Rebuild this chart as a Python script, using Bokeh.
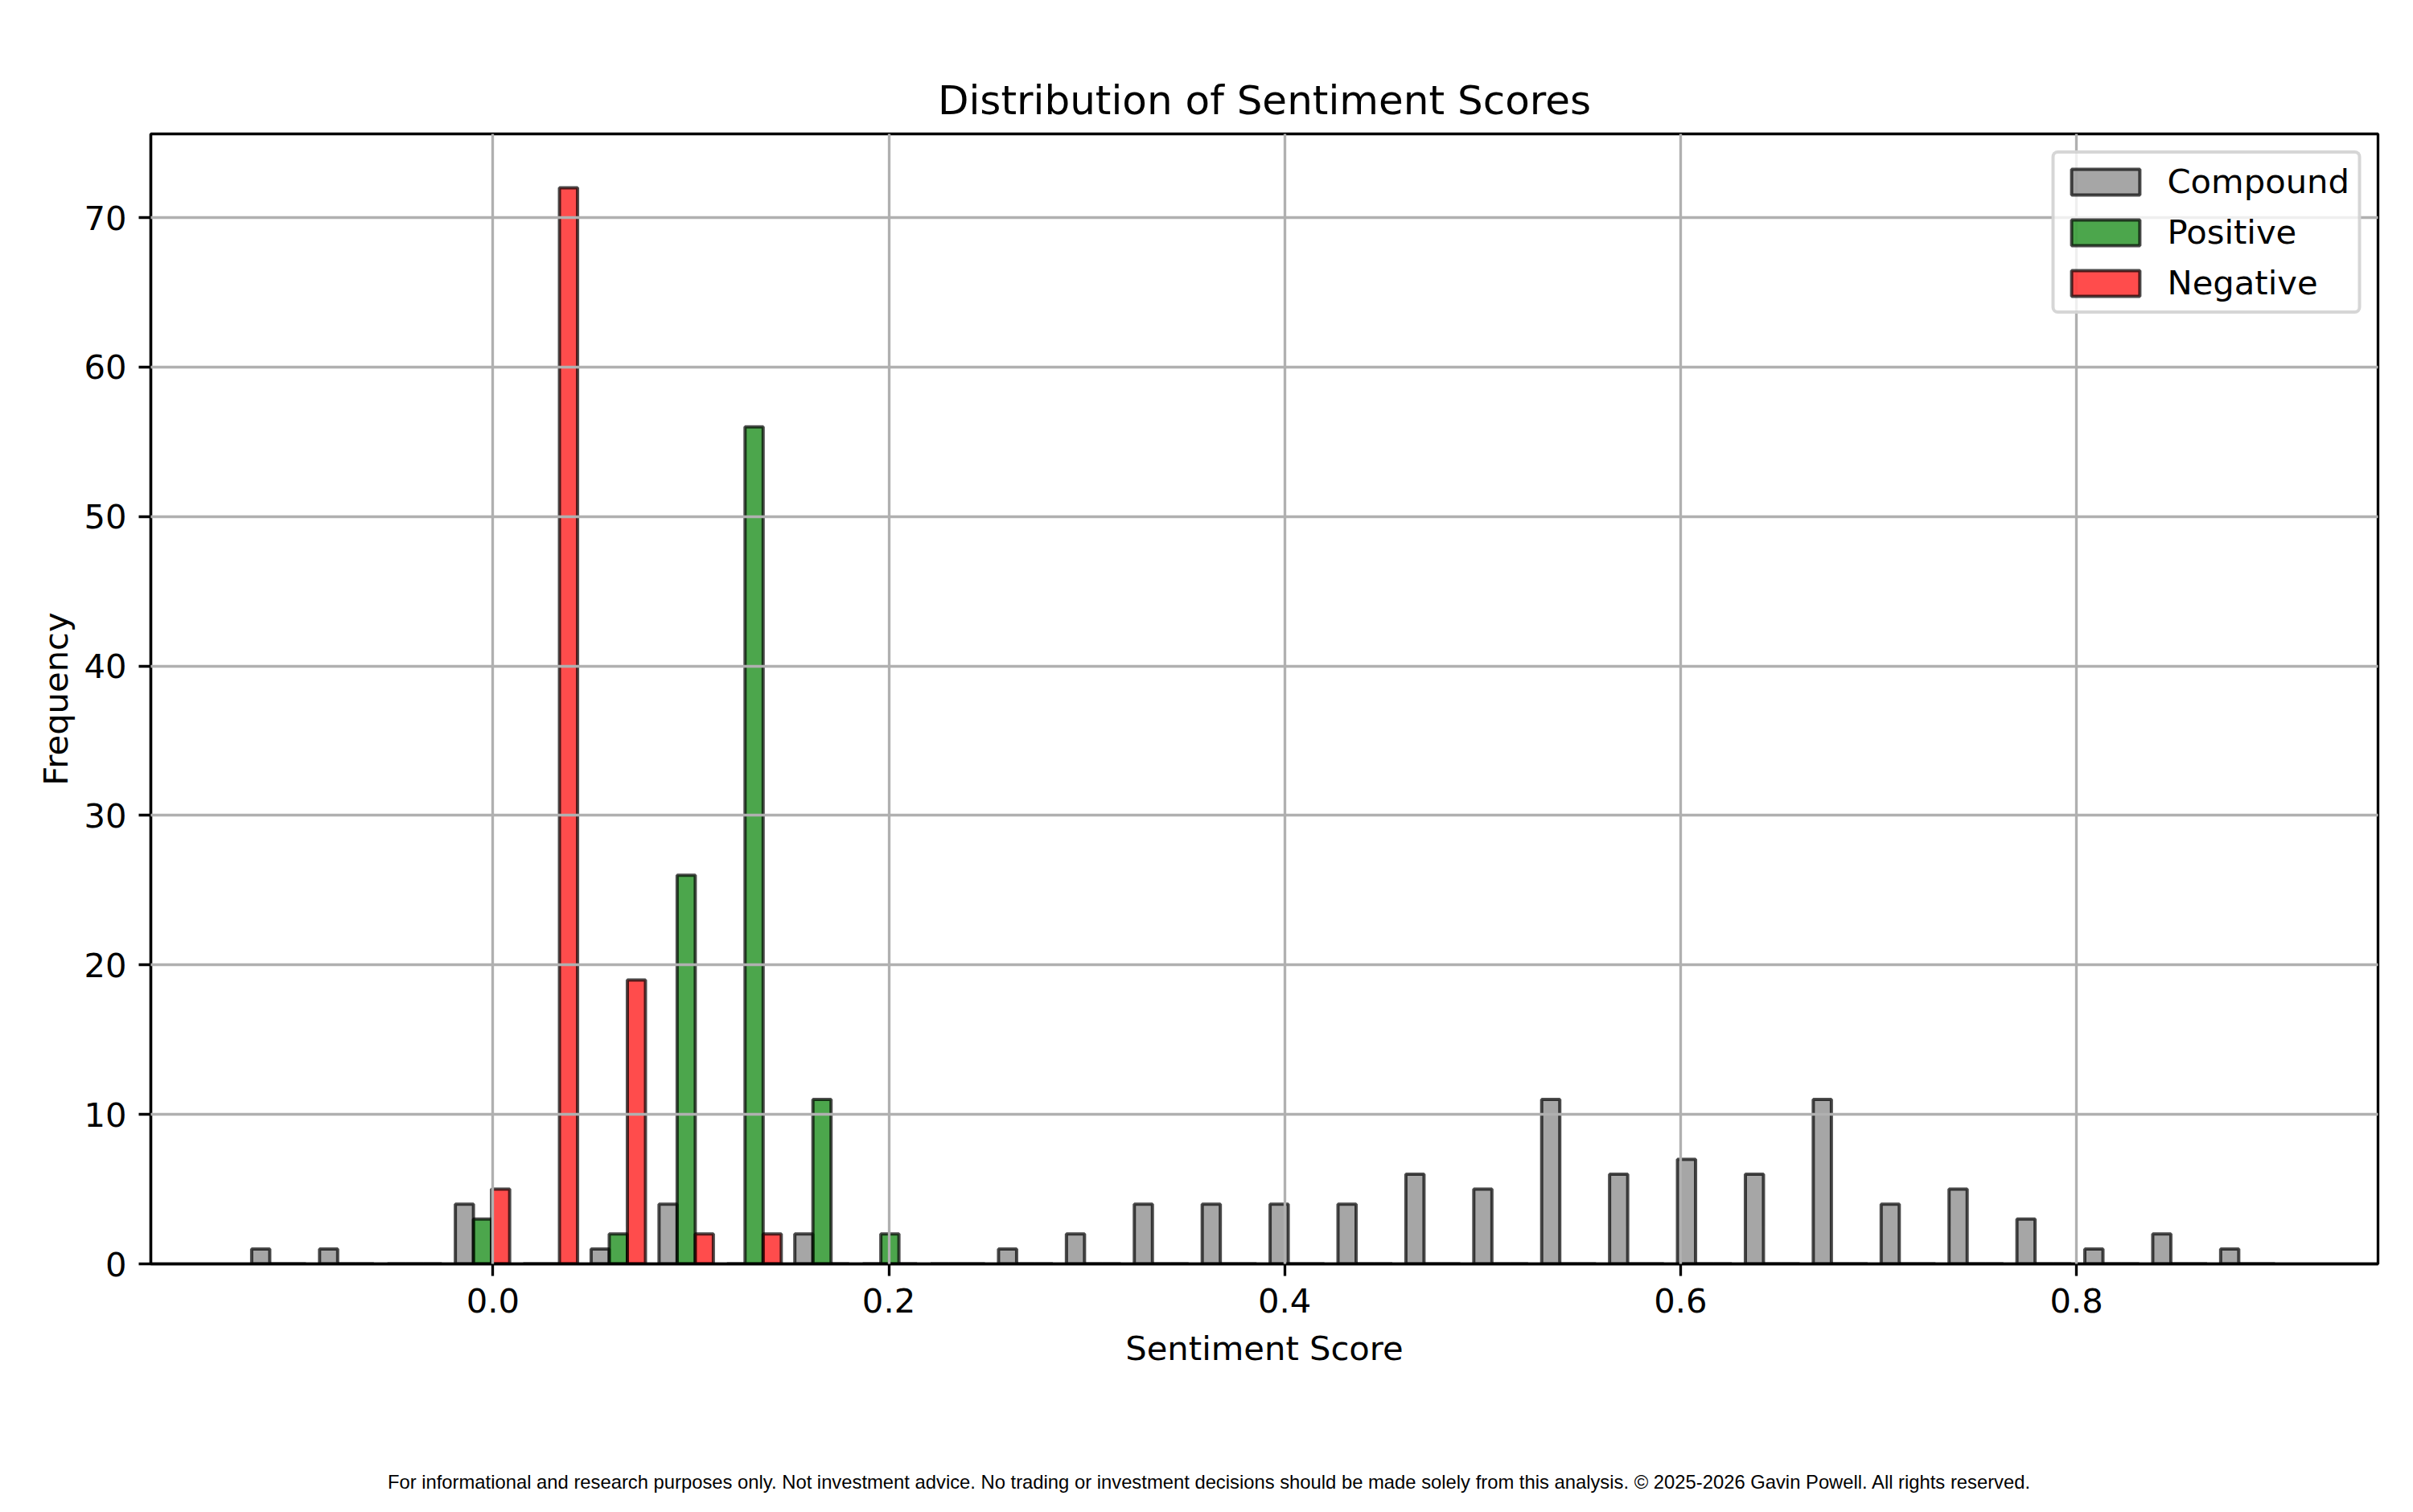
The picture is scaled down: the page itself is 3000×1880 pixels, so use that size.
import numpy as np
from bokeh.plotting import figure
from bokeh.models import Range1d, FixedTicker, Div
from bokeh.layouts import column
from bokeh.embed import file_html
from bokeh.resources import INLINE

# ---- data (histogram counts) ----
bin_start = -0.1253
bin_width = 0.0343
n_bins = 30
compound_counts = [1, 1, 0, 4, 0, 1, 4, 0, 2, 0, 0, 1, 2, 4, 4, 4, 4, 6, 5, 11,
                   6, 7, 6, 11, 4, 5, 3, 1, 2, 1]
positive_counts = [0, 0, 0, 3, 0, 2, 26, 56, 11, 2, 0, 0, 0, 0, 0, 0, 0, 0, 0, 0,
                   0, 0, 0, 0, 0, 0, 0, 0, 0, 0]
negative_counts = [0, 0, 0, 5, 72, 19, 2, 2, 0, 0, 0, 0, 0, 0, 0, 0, 0, 0, 0, 0,
                   0, 0, 0, 0, 0, 0, 0, 0, 0, 0]
series_names = ["Compound", "Positive", "Negative"]
series_colors = ["gray", "green", "red"]
x_ticks = [0.0, 0.2, 0.4, 0.6, 0.8]
x_tick_labels = ["0.0", "0.2", "0.4", "0.6", "0.8"]
y_ticks = [0, 10, 20, 30, 40, 50, 60, 70]
footer_text = ("For informational and research purposes only. Not investment advice. "
               "No trading or investment decisions should be made solely from this analysis. "
               "\u00a9 2025-2026 Gavin Powell. All rights reserved.")

FONT = "DejaVu Sans"
FS = "41.7px"

edges = bin_start + bin_width * np.arange(n_bins)
nx = 3
dr = 0.8
bar_w = dr * bin_width / nx
offset0 = 0.5 * bin_width - 0.5 * dr * bin_width * (1 - 1 / nx)

p = figure(width=2984, height=1829, output_backend="svg", toolbar_location=None,
           x_range=Range1d(-0.17282, 0.95233), y_range=Range1d(0, 75.6),
           min_border_left=187, min_border_right=28, min_border_top=166,
           min_border_bottom=258, title="Distribution of Sentiment Scores")

for i, (counts, color, name) in enumerate(zip(
        [compound_counts, positive_counts, negative_counts], series_colors, series_names)):
    p.vbar(x=edges + offset0 + i * bar_w, top=counts, bottom=0, width=bar_w,
           fill_color=color, fill_alpha=0.7, line_color="black", line_alpha=0.7,
           line_width=4, legend_label=name)

# title
p.title.text_font = FONT
p.title.text_font_size = "50px"
p.title.text_font_style = "normal"
p.title.text_color = "black"
p.title.align = "center"
p.title.standoff = 26

# axes
for ax in (p.xaxis[0], p.yaxis[0]):
    ax.axis_line_color = "black"
    ax.axis_line_width = 3.33
    ax.major_tick_line_width = 3.33
    ax.major_tick_out = 15
    ax.major_tick_in = 0
    ax.minor_tick_line_color = None
    ax.major_label_standoff = 15
    ax.major_label_text_font = FONT
    ax.major_label_text_font_size = FS
    ax.major_label_text_color = "black"
    ax.axis_label_text_font = FONT
    ax.axis_label_text_font_size = FS
    ax.axis_label_text_font_style = "normal"
    ax.axis_label_text_color = "black"

p.xaxis.ticker = FixedTicker(ticks=x_ticks)
p.xaxis.major_label_overrides = {t: l for t, l in zip(x_ticks, x_tick_labels)}
p.yaxis.ticker = FixedTicker(ticks=y_ticks)
p.xaxis.axis_label = "Sentiment Score"
p.yaxis.axis_label = "Frequency"
p.xaxis.axis_label_standoff = 17
p.yaxis.axis_label_standoff = 7

p.outline_line_color = "black"
p.outline_line_width = 3.33
p.outline_line_alpha = 1.0

p.grid.grid_line_color = "#b0b0b0"
p.grid.grid_line_width = 3.33
p.grid.level = "annotation"

# legend
lg = p.legend[0]
lg.location = "top_right"
lg.margin = 21
lg.padding = 10
lg.spacing = 14
lg.glyph_width = 106
lg.glyph_height = 40
lg.label_standoff = 24
lg.label_text_font = FONT
lg.label_text_font_size = FS
lg.label_text_color = "black"
lg.border_line_color = "#cccccc"
lg.border_line_alpha = 0.8
lg.border_line_width = 4
lg.background_fill_alpha = 0.8
lg.border_radius = 8

# footer
footer = Div(
    text=('<div style="box-sizing:border-box; width:2984px; padding-left:22px; '
          'text-align:center; font-family:\'Liberation Sans\', Arial, sans-serif; '
          'font-size:23.8px; line-height:28px; color:black; white-space:nowrap;">'
          + footer_text + '</div>'),
    width=2984, height=28, margin=0)

layout = column(p, footer, spacing=0)
open("out.html", "w", encoding="utf-8").write(file_html(layout, INLINE))
